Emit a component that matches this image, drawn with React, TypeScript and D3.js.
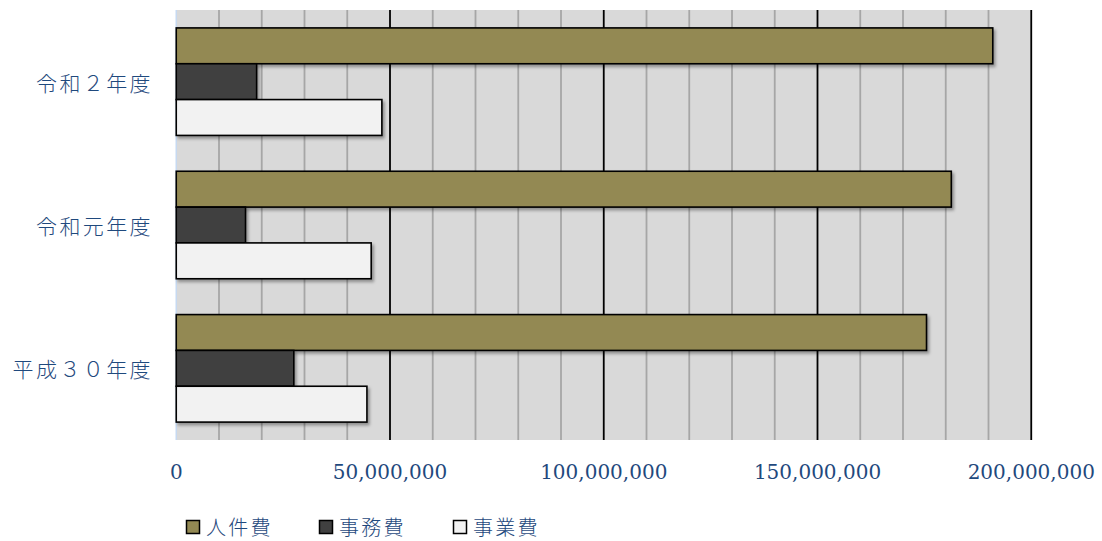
import React from 'react';
import * as d3 from 'd3';

// categories top to bottom
const categories = ['令和２年度', '令和元年度', '平成３０年度'];
const seriesNames = ['人件費', '事務費', '事業費'];
const seriesColors = ['#938953', '#404040', '#f2f2f2'];

// values in yen, per category (same order as categories)
const jinkenhi = [191000000, 181300000, 175500000];
const jimuhi = [18800000, 16200000, 27500000];
const jigyohi = [48100000, 45600000, 44600000];
const seriesValues = [jinkenhi, jimuhi, jigyohi];

const tickLabels = [0, 50000000, 100000000, 150000000, 200000000];

const W = 1102;
const H = 541;
const plot = { left: 176.25, right: 1031.25, top: 10, bottom: 440 };
const textColor = '#1F497D';

export default function App() {
	const xScale = d3.scaleLinear().domain([0, 200000000]).range([plot.left, plot.right]);
	const yScale = d3.scaleBand().domain(categories).range([plot.top, plot.bottom]).paddingInner(0).paddingOuter(0);
	const inner = d3.scaleBand().domain(seriesNames).range([0, yScale.bandwidth()]).paddingInner(0).paddingOuter(0.5);

	const minorTicks = xScale.ticks(20).filter((t) => t % 50000000 !== 0);
	const majorTicks = tickLabels.filter((t) => t > 0);
	const fmt = d3.format(',');

	const legendX = [186, 319, 453];

	return (
		<svg width={W} height={H} style={{ position: 'absolute', left: 0, top: 0, background: '#fff' }}>
			<defs>
				<filter id="shadow" x="-5%" y="-20%" width="115%" height="160%">
					<feDropShadow dx="2" dy="2.5" stdDeviation="1.8" floodColor="#000" floodOpacity="0.35" />
				</filter>
			</defs>
			<rect x={plot.left} y={plot.top} width={plot.right - plot.left} height={plot.bottom - plot.top} fill="#d9d9d9" />
			{minorTicks.map((t) => (
				<line key={'m' + t} x1={xScale(t)} x2={xScale(t)} y1={plot.top} y2={plot.bottom} stroke="#a6a6a6" strokeWidth={1.8} />
			))}
			{majorTicks.map((t) => (
				<line key={'M' + t} x1={xScale(t)} x2={xScale(t)} y1={plot.top} y2={plot.bottom} stroke="#000" strokeWidth={1.8} />
			))}
			<line x1={plot.left} x2={plot.left} y1={plot.top} y2={plot.bottom} stroke="#c6d9f1" strokeWidth={1.5} />

			{/* bars */}
			{categories.map((c, ci) => (
				<g key={c} transform={`translate(0,${yScale(c)})`}>
					{seriesNames.map((s, si) => (
						<rect
							key={s}
							x={xScale(0)}
							y={inner(s)}
							width={xScale(seriesValues[si][ci]) - xScale(0)}
							height={inner.bandwidth()}
							fill={seriesColors[si]}
							stroke="#000"
							strokeWidth={1.6}
							filter="url(#shadow)"
						/>
					))}
				</g>
			))}

			{/* category labels */}
			{categories.map((c) => (
				<text
					key={'l' + c}
					x={153}
					y={(yScale(c) ?? 0) + yScale.bandwidth() / 2}
					textAnchor="end"
					dominantBaseline="central"
					fontFamily="'Noto Sans CJK JP'"
					fontWeight={300}
					fontSize={21}
					letterSpacing={2.4}
					fill={textColor}
				>
					{c}
				</text>
			))}

			{/* x tick labels */}
			{tickLabels.map((t) => (
				<text
					key={'t' + t}
					x={xScale(t)}
					y={479}
					textAnchor="middle"
					fontFamily="'DejaVu Serif'"
					fontSize={20}
					fill={textColor}
				>
					{fmt(t)}
				</text>
			))}

			{/* legend */}
			{seriesNames.map((s, i) => (
				<g key={'lg' + s} transform={`translate(${legendX[i]},520)`}>
					<rect x={0.5} y={0.5} width={13} height={13} fill={seriesColors[i]} stroke="#000" strokeWidth={1.5} />
					<text
						x={20}
						y={6}
						dominantBaseline="central"
						fontFamily="'Noto Sans CJK JP'"
						fontWeight={300}
						fontSize={20}
						letterSpacing={2.2}
						fill={textColor}
					>
						{s}
					</text>
				</g>
			))}
		</svg>
	);
}
